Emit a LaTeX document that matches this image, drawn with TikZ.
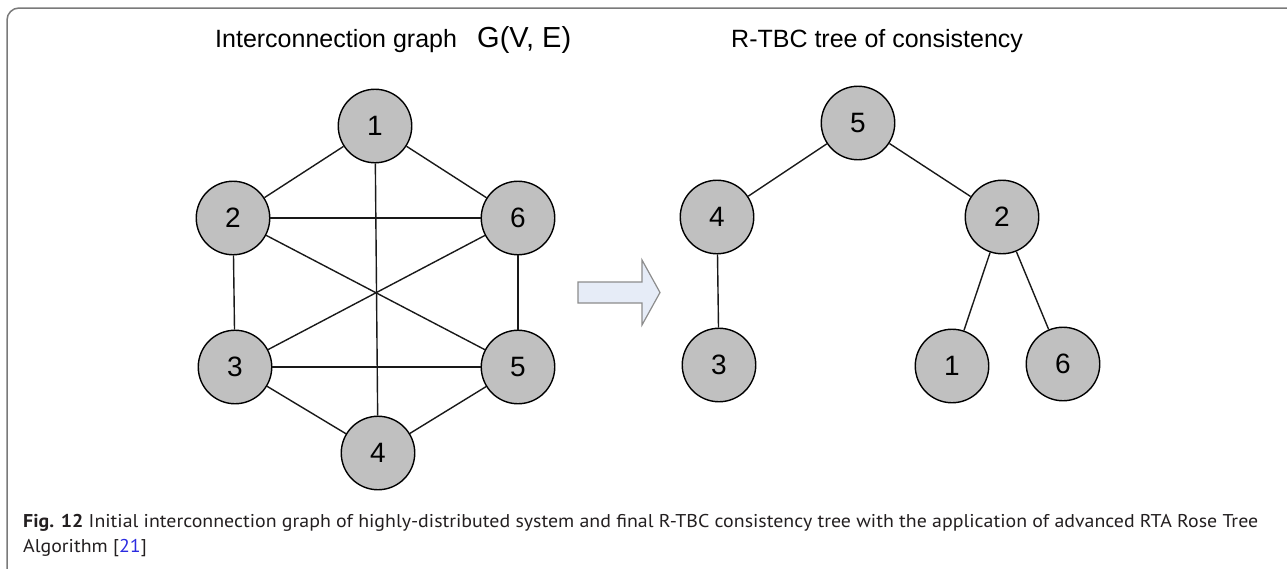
\documentclass[tikz,border=0pt]{standalone}
\usepackage{fontspec}
\setmainfont{Liberation Sans}
\newfontfamily\capfont{PT Sans}
\usepackage{graphicx}
\definecolor{nodegray}{HTML}{C0C0C0}
\definecolor{framegray}{HTML}{7A7A7A}
\definecolor{arrowfill}{HTML}{E6ECF7}
\definecolor{arrowline}{HTML}{8C8C8C}
\definecolor{captext}{HTML}{231F20}
\definecolor{citeblue}{HTML}{2B2BE0}
\tikzset{
  vertex/.style={circle, draw=black, fill=nodegray, line width=1.4pt,
    minimum size=73.5pt, inner sep=0pt, font=\fontsize{28}{30}\selectfont},
  edge/.style={line width=1.4pt, draw=black!90},
  heading/.style={anchor=base west, inner sep=0pt, font=\fontsize{25}{28}\selectfont},
  captionline/.style={anchor=base west, inner sep=0pt, text=captext}
}
\newcommand\captextone{\textbf{Fig. 12} Initial interconnection graph of highly-distributed system and final R-TBC consistency tree with the application of advanced RTA Rose Tree}
\newcommand\capsize{\fontsize{18.5}{22}\selectfont}
\newlength\capw
\AtBeginDocument{%
  \settowidth\capw{\capfont\capsize\captextone}%
  \pgfmathsetmacro\capsx{1235/\capw}%
}
\begin{document}
\begin{tikzpicture}[x=1pt, y=-1pt]
\useasboundingbox (0,0) rectangle (1287,568);

% outer frame, open to the right and bottom
\draw[framegray, line width=1.5pt, rounded corners=12pt]
  (7,620) -- (7,8) -- (1320,8);

% headings
\node[heading] (tleft) at (215,47) {Interconnection graph};
\node[heading, font=\fontsize{29}{32}\selectfont] (tgraph) at (477,47) {G(V, E)};
\node[heading] (tright) at (731,47) {R-TBC tree of consistency};

% interconnection graph
\node[vertex] (g1) at (375,126) {1};
\node[vertex] (g2) at (233,218) {2};
\node[vertex] (g6) at (518,218) {6};
\node[vertex] (g3) at (235,367) {3};
\node[vertex] (g5) at (518,367) {5};
\node[vertex] (g4) at (378,453) {4};
\draw[edge] (g1) -- (g2);
\draw[edge] (g1) -- (g6);
\draw[edge] (g1) -- (g4);
\draw[edge] (g2) -- (g6);
\draw[edge] (g2) -- (g3);
\draw[edge] (g2) -- (g5);
\draw[edge] (g6) -- (g3);
\draw[edge] (g6) -- (g5);
\draw[edge] (g3) -- (g5);
\draw[edge] (g3) -- (g4);
\draw[edge] (g5) -- (g4);

% block arrow between the two parts
\draw[draw=arrowline, fill=arrowfill, line width=1.2pt, line join=miter]
  (578,282) -- (642,282) -- (642,260) -- (660,292.5) -- (642,325)
  -- (642,303) -- (578,303) -- cycle;

% consistency tree
\node[vertex] (t5) at (858,123) {5};
\node[vertex] (t4) at (717,217) {4};
\node[vertex] (t2) at (1002,217) {2};
\node[vertex] (t3) at (719,365) {3};
\node[vertex] (t1) at (952,366) {1};
\node[vertex] (t6) at (1063,364) {6};
\draw[edge] (t5) -- (t4);
\draw[edge] (t5) -- (t2);
\draw[edge] (t4) -- (t3);
\draw[edge] (t2) -- (t1);
\draw[edge] (t2) -- (t6);

% caption
\node[captionline] (cap1) at (23,527) {\scalebox{\capsx}[1]{\capfont\capsize\captextone}};
\node[captionline] (cap2) at (23,552) {\scalebox{\capsx}[1]{\capfont\capsize Algorithm [{\color{citeblue}21}]}};
\end{tikzpicture}
\end{document}
